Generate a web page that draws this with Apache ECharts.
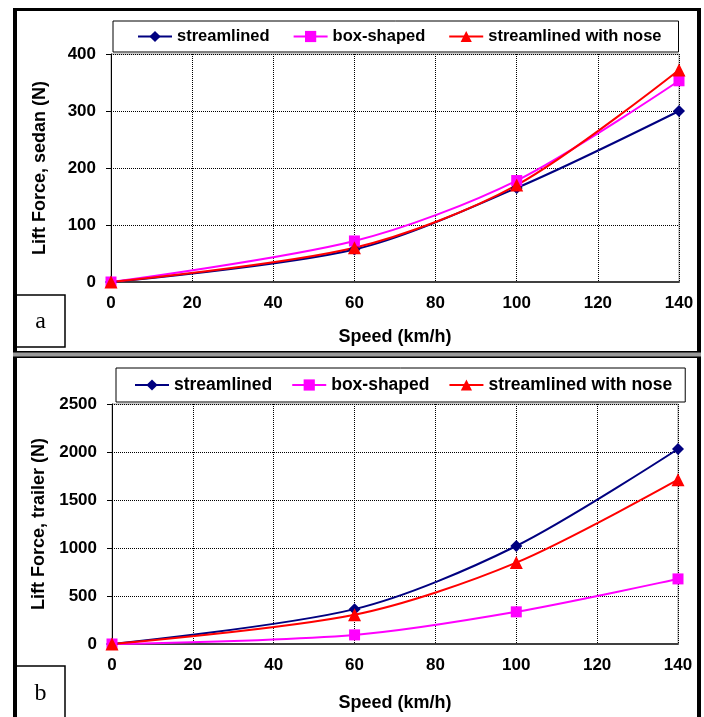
<!DOCTYPE html>
<html>
<head>
<meta charset="utf-8">
<script src="https://cdn.jsdelivr.net/npm/echarts@6/dist/echarts.min.js"></script>
<style>
  html, body { margin: 0; padding: 0; background: #fff; }
  #chart { width: 704px; height: 717px; }
</style>
</head>
<body>
<div id="chart"></div>
<script>
// speeds in km/h
const speeds = [0, 60, 100, 140];
const seriesNames = ['streamlined', 'box-shaped', 'streamlined with nose'];

// (a) sedan lift force, N
const sedanStreamlined = [0, 57, 165, 300];
const sedanBox = [0, 72, 178, 353];
const sedanNose = [0, 60, 170, 372];

// (b) trailer lift force, N
const trailerStreamlined = [0, 363, 1021, 2031];
const trailerBox = [0, 95, 335, 678];
const trailerNose = [0, 305, 848, 1712];

const speedTicks = [0, 20, 40, 60, 80, 100, 120, 140];
const sedanTicks = [0, 100, 200, 300, 400];
const trailerTicks = [0, 500, 1000, 1500, 2000, 2500];

const colors = ['#000080', '#ff00ff', '#ff0000'];
const symbols = ['diamond', 'rect', 'triangle'];
const symbolSizes = [12, 11, 13];
const font = 'Liberation Sans, Arial, sans-serif';

const chart = echarts.init(document.getElementById('chart'));

function pairs(ys) {
  return speeds.map((x, i) => [x, ys[i]]);
}

function makeSeries(gridIdx, lists) {
  return lists.map((ys, i) => ({
    name: seriesNames[i],
    type: 'line',
    xAxisIndex: gridIdx,
    yAxisIndex: gridIdx,
    smooth: 0.3,
    symbol: symbols[i],
    symbolSize: symbolSizes[i],
    lineStyle: { color: colors[i], width: 2 },
    itemStyle: { color: colors[i] },
    data: pairs(ys),
  }));
}

function xAxis(gridIdx, gap) {
  return {
    type: 'value',
    gridIndex: gridIdx,
    min: speedTicks[0],
    max: speedTicks[speedTicks.length - 1],
    interval: 20,
    name: 'Speed (km/h)',
    nameLocation: 'middle',
    nameGap: gap,
    nameTextStyle: { color: '#000', fontSize: 18, fontWeight: 'bold', fontFamily: font },
    axisLine: { show: true, lineStyle: { color: '#404040', width: 2 } },
    axisTick: { show: false },
    axisLabel: { color: '#000', fontSize: 17, fontWeight: 'bold', fontFamily: font, margin: 13 },
    splitLine: { show: true, lineStyle: { color: '#000', type: [1, 1], width: 1 } },
  };
}

function yAxis(gridIdx, ticks, title, gap) {
  return {
    type: 'value',
    gridIndex: gridIdx,
    min: ticks[0],
    max: ticks[ticks.length - 1],
    interval: ticks[1] - ticks[0],
    name: title,
    nameLocation: 'middle',
    nameGap: gap,
    nameTextStyle: { color: '#000', fontSize: 18, fontWeight: 'bold', fontFamily: font },
    axisLine: { show: true, lineStyle: { color: '#000', width: 1 } },
    axisTick: { show: true, inside: false, length: 5, lineStyle: { color: '#000' } },
    axisLabel: { color: '#000', fontSize: 17, fontWeight: 'bold', fontFamily: font, margin: 15,
                 formatter: (v) => String(v) },
    splitLine: { show: true, lineStyle: { color: '#000', type: [1, 1], width: 1 } },
  };
}

function legend(left, top, padding, size, gap) {
  return {
    left: left,
    top: top,
    orient: 'horizontal',
    data: seriesNames,
    itemWidth: 34,
    itemHeight: 14,
    itemGap: gap,
    padding: padding,
    borderColor: '#000',
    borderWidth: 1,
    backgroundColor: '#fff',
    textStyle: { color: '#000', fontSize: size, fontWeight: 'bold', fontFamily: font },
  };
}

function labelBox(x, y, h, txt, ty) {
  return [
    { type: 'rect', shape: { x: x, y: y, width: 49, height: h },
      style: { fill: '#fff', stroke: '#000', lineWidth: 1.5 }, z: 10 },
    { type: 'text', x: x + 24.5, y: ty,
      style: { text: txt, font: '24px "Liberation Serif", "DejaVu Serif", serif', fill: '#000',
               align: 'center', verticalAlign: 'middle' }, z: 11 },
  ];
}

const option = {
  animation: false,
  backgroundColor: '#fff',
  grid: [
    { left: 111, top: 54, width: 568, height: 228, show: true, borderColor: '#9a9a9a', borderWidth: 1 },
    { left: 112, top: 404, width: 566, height: 240, show: true, borderColor: '#9a9a9a', borderWidth: 1 },
  ],
  legend: [
    legend(113, 21, [7, 17, 7, 24], 16.5, 23),
    legend(116, 368, [8, 13, 8, 18], 17.5, 19),
  ],
  xAxis: [xAxis(0, 46), xAxis(1, 50)],
  yAxis: [
    yAxis(0, sedanTicks, 'Lift Force, sedan (N)', 62),
    yAxis(1, trailerTicks, 'Lift Force, trailer (N)', 62),
  ],
  series: [
    ...makeSeries(0, [sedanStreamlined, sedanBox, sedanNose]),
    ...makeSeries(1, [trailerStreamlined, trailerBox, trailerNose]),
  ],
  graphic: [
    // outer frame
    { type: 'rect', shape: { x: 13, y: 8, width: 4, height: 709 }, style: { fill: '#000' }, z: 20 },
    { type: 'rect', shape: { x: 13, y: 8, width: 688, height: 3 }, style: { fill: '#000' }, z: 20 },
    { type: 'rect', shape: { x: 697, y: 8, width: 4, height: 709 }, style: { fill: '#000' }, z: 20 },
    // panel separator
    { type: 'rect', shape: { x: 13, y: 352, width: 688, height: 6 }, style: { fill: '#9a9a9a' }, z: 20 },
    { type: 'rect', shape: { x: 13, y: 351, width: 688, height: 1.5 }, style: { fill: '#000' }, z: 20 },
    { type: 'rect', shape: { x: 13, y: 356.5, width: 688, height: 1.5 }, style: { fill: '#000' }, z: 20 },
    ...labelBox(16, 295, 52, 'a', 322),
    ...labelBox(16, 666, 60, 'b', 694),
  ],
};

chart.setOption(option);
</script>
</body>
</html>
